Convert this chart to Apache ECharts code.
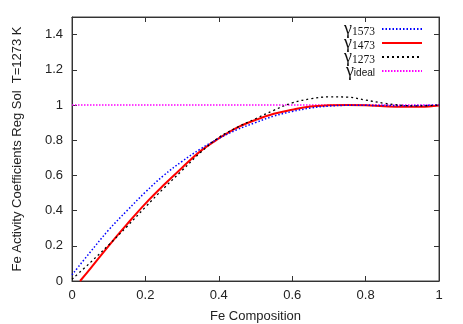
<!DOCTYPE html>
<html><head><meta charset="utf-8">
<script src="https://cdn.jsdelivr.net/npm/echarts@6/dist/echarts.min.js"></script>
<style>html,body{margin:0;padding:0;background:#fff}#c{width:463px;height:324px}</style>
</head><body><div id="c"></div>
<script>
const xs      = [0, 0.05, 0.1, 0.15, 0.2, 0.25, 0.3, 0.35, 0.4, 0.45, 0.5, 0.55, 0.6, 0.65, 0.7, 0.75, 0.8, 0.85, 0.9, 0.95, 1.0];
const g1573   = [0.035, 0.165, 0.29, 0.40, 0.505, 0.60, 0.68, 0.75, 0.81, 0.86, 0.90, 0.937, 0.963, 0.983, 0.994, 0.998, 0.998, 0.997, 0.996, 0.997, 1.0];
const g1473x  = [0.022, 0.05, 0.1, 0.15, 0.2, 0.25, 0.3, 0.35, 0.4, 0.45, 0.5, 0.55, 0.6, 0.65, 0.7, 0.75, 0.8, 0.85, 0.9, 0.95, 1.0];
const g1473   = [0.0, 0.07, 0.2, 0.323, 0.44, 0.545, 0.644, 0.738, 0.81, 0.872, 0.915, 0.95, 0.973, 0.991, 0.998, 1.0, 0.998, 0.993, 0.99, 0.99, 0.997];
const g1273   = [0.01, 0.105, 0.205, 0.31, 0.42, 0.527, 0.628, 0.73, 0.815, 0.873, 0.922, 0.97, 1.012, 1.035, 1.046, 1.045, 1.028, 1.01, 0.998, 0.995, 1.0];
const idealX  = [0, 1];
const ideal   = [1, 1];
const names   = ['γ1573', 'γ1473', 'γ1273', 'γideal'];
const xTicks  = [0, 0.2, 0.4, 0.6, 0.8, 1];
const yTicks  = [0, 0.2, 0.4, 0.6, 0.8, 1, 1.2, 1.4];

const pair = (a, b) => a.map((v, i) => [v, b[i]]);
const fmt = v => (Math.abs(v - Math.round(v)) < 1e-9 ? String(Math.round(v)) : String(+v.toFixed(1)));
const fam = '"Liberation Sans", Arial, sans-serif';
const serif = '"Liberation Serif", "Times New Roman", serif';

const chart = echarts.init(document.getElementById('c'), null, {renderer: 'canvas'});
const axisBase = {
  type: 'value', min: 0, splitLine: {show: false},
  axisLine: {show: true, onZero: false, lineStyle: {color: '#333', width: 1}},
  axisTick: {show: true, inside: true, length: 5, lineStyle: {color: '#333'}},
};
const legendTops = [15, 29, 43, 57];
const legends = names.map((n, i) => ({
  orient: 'vertical', right: 35, top: legendTops[i], align: 'right',
  itemWidth: 40, itemHeight: 8, itemGap: 0,
  itemStyle: {opacity: 0},
  data: [n],
  formatter: s => s === 'γideal' ? '{g|γ}{t|ideal}' : '{g|γ}{s|' + s.slice(1) + '}',
  textStyle: {
    color: '#111', padding: [0, 2, 0, 0],
    rich: {
      g: {fontFamily: serif, fontSize: 18, color: '#111', lineHeight: 15},
      s: {fontFamily: serif, fontSize: 11.5, color: '#111', padding: [5, 0, 0, 0], lineHeight: 10},
      t: {fontFamily: fam, fontSize: 10, color: '#111', padding: [5, 0, 0, 0], lineHeight: 10}
    }
  }
}));
chart.setOption({
  animation: false,
  grid: {left: 72, right: 24, top: 17, bottom: 43, show: true, borderColor: '#444', borderWidth: 1,
    containLabel: false, outerBoundsMode: 'none'},
  xAxis: [
    Object.assign({}, axisBase, {max: 1, interval: 0.2, position: 'bottom',
      name: 'Fe Composition', nameLocation: 'middle', nameGap: 29,
      nameTextStyle: {fontFamily: fam, fontSize: 13, color: '#222'},
      axisLabel: {fontFamily: fam, fontSize: 13, color: '#222', margin: 8,
        formatter: v => xTicks.some(t => Math.abs(t - v) < 1e-9) ? fmt(v) : ''}}),
    Object.assign({}, axisBase, {max: 1, interval: 0.2, position: 'top', axisLabel: {show: false}})
  ],
  yAxis: [
    Object.assign({}, axisBase, {max: 1.5, interval: 0.2, position: 'left',
      name: 'Fe Activity Coefficients Reg Sol  T=1273 K', nameLocation: 'middle', nameGap: 48,
      nameTextStyle: {fontFamily: fam, fontSize: 13, color: '#222'},
      axisLabel: {fontFamily: fam, fontSize: 13, color: '#222', margin: 9, showMaxLabel: false,
        formatter: v => yTicks.some(t => Math.abs(t - v) < 1e-9) ? fmt(v) : ''}}),
    Object.assign({}, axisBase, {max: 1.5, interval: 0.2, position: 'right', axisLabel: {show: false}})
  ],
  legend: legends,
  series: [
    {name: names[0], type: 'line', symbol: 'none', smooth: 0.4, data: pair(xs, g1573),
      lineStyle: {color: '#0000ff', width: 1.5, type: [1.5, 2]}, itemStyle: {color: '#0000ff'}, z: 3},
    {name: names[1], type: 'line', symbol: 'none', smooth: 0.4, data: pair(g1473x, g1473),
      lineStyle: {color: '#ff0000', width: 2}, itemStyle: {color: '#ff0000'}, z: 2},
    {name: names[2], type: 'line', symbol: 'none', smooth: 0.4, data: pair(xs, g1273),
      lineStyle: {color: '#000000', width: 1.3, type: [2, 3]}, itemStyle: {color: '#000'}, z: 4},
    {name: names[3], type: 'line', symbol: 'none', data: pair(idealX, ideal),
      lineStyle: {color: '#ff00ff', width: 1.5, type: [1.5, 1.5]}, itemStyle: {color: '#ff00ff'}, z: 1}
  ]
});
</script></body></html>
